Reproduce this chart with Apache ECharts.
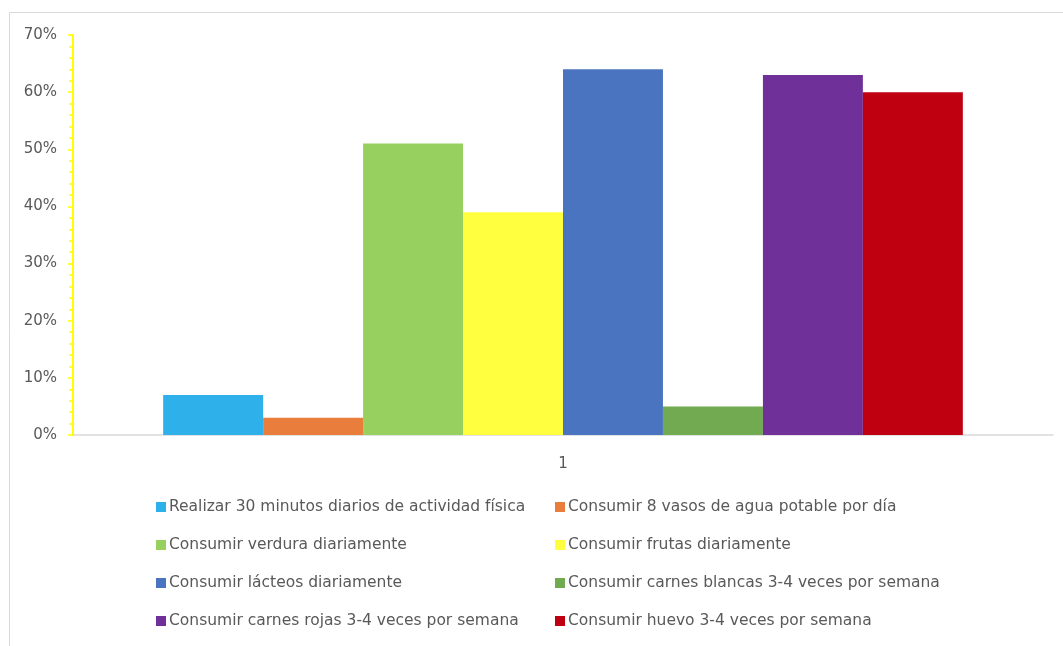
<!DOCTYPE html>
<html>
<head>
<meta charset="utf-8">
<script src="https://cdn.jsdelivr.net/npm/echarts@6/dist/echarts.min.js"></script>
<style>html,body{margin:0;padding:0;background:#fff}#c{width:1063px;height:646px}</style>
</head>
<body>
<div id="c"></div>
<script>
const categories = ['1'];
const seriesNames = [
  'Realizar 30 minutos diarios de actividad física',
  'Consumir 8 vasos de agua potable por día',
  'Consumir verdura diariamente',
  'Consumir frutas diariamente',
  'Consumir lácteos diariamente',
  'Consumir carnes blancas 3-4 veces por semana',
  'Consumir carnes rojas 3-4 veces por semana',
  'Consumir huevo 3-4 veces por semana'
];
const seriesValues = [0.07, 0.03, 0.51, 0.39, 0.64, 0.05, 0.63, 0.60];
const seriesColors = ['#2EB1EA', '#E97E3C', '#98D060', '#FFFF40', '#4A74C0', '#71AA50', '#70309A', '#BF0011'];
const yTicks = [0, 0.1, 0.2, 0.3, 0.4, 0.5, 0.6, 0.7];

const chart = echarts.init(document.getElementById('c'), null, {renderer: 'canvas'});
const FONT = 'DejaVu Sans';
const labelFont = {color: '#595959', fontSize: 15, fontFamily: FONT};
const series = seriesNames.map((n, i) => ({
  name: n,
  type: 'bar',
  data: [seriesValues[i]],
  barGap: '0%',
  barCategoryGap: '18.4%',
  itemStyle: {color: seriesColors[i]},
  emphasis: {disabled: true}
}));
const legendCommon = {
  orient: 'vertical',
  icon: 'rect',
  itemWidth: 10,
  itemHeight: 10,
  itemGap: 20,
  textStyle: {color: '#595959', fontSize: 15.5, fontFamily: FONT, lineHeight: 18, padding: [0, 0, 0, -2]},
  selectedMode: false
};
chart.setOption({
  animation: false,
  grid: {left: 73, right: 10, top: 35, bottom: 211},
  graphic: [{
    type: 'rect',
    shape: {x: 9.5, y: 12.5, width: 1060, height: 640},
    style: {fill: 'none', stroke: '#d9d9d9', lineWidth: 1},
    silent: true
  }],
  legend: [
    Object.assign({}, legendCommon, {left: 151, top: 493, data: seriesNames.filter((_, i) => i % 2 === 0)}),
    Object.assign({}, legendCommon, {left: 550, top: 493, data: seriesNames.filter((_, i) => i % 2 === 1)})
  ],
  xAxis: {
    type: 'category',
    data: categories,
    axisLine: {lineStyle: {color: '#d9d9d9', width: 1.5}},
    axisTick: {show: false},
    axisLabel: Object.assign({margin: 22}, labelFont)
  },
  yAxis: {
    type: 'value',
    min: 0,
    max: 0.7,
    interval: 0.1,
    axisLine: {show: true, lineStyle: {color: '#FFFF00', width: 2}},
    axisTick: {show: true, length: 5, lineStyle: {color: '#FFFF00', width: 1.5}},
    minorTick: {show: true, splitNumber: 5, length: 4, lineStyle: {color: '#FFFF00', width: 1.5}},
    splitLine: {show: false},
    axisLabel: Object.assign({margin: 16, formatter: v => Math.round(v * 100) + '%'}, labelFont)
  },
  series: series
});
</script>
</body>
</html>
